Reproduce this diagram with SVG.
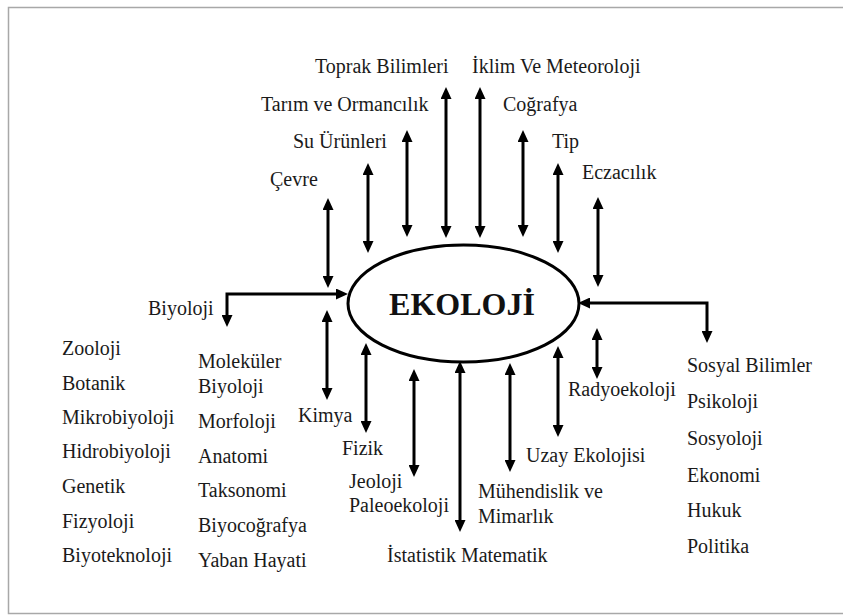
<svg xmlns="http://www.w3.org/2000/svg" width="843" height="615" viewBox="0 0 843 615">
<style>
text{font-family:"Liberation Serif","Times New Roman",serif;font-size:20px;fill:#1a1a1a}
.title{font-size:32px;font-weight:bold;fill:#111}
.c{fill:none;stroke:#000;stroke-width:3;marker-start:url(#ah);marker-end:url(#ah)}
</style>
<defs>
<marker id="ah" markerUnits="userSpaceOnUse" markerWidth="13" markerHeight="11" refX="6" refY="5.5" orient="auto-start-reverse">
<path d="M0,0 L12,5.5 L0,11 Z" fill="#000"/>
</marker>
</defs>
<rect width="843" height="615" fill="#fff"/>
<rect x="8.5" y="7.5" width="840" height="606" fill="none" stroke="#a8a8a8" stroke-width="1.5"/>
<g id="ekoloji">
<ellipse cx="463.5" cy="303.5" rx="115.5" ry="58.5" fill="#fff" stroke="#000" stroke-width="3"/>
<text class="title" x="462" y="315" text-anchor="middle">EKOLOJİ</text>
</g>
<g id="connectors">
<line class="c" x1="328" y1="204" x2="328" y2="282"/>
<line class="c" x1="368" y1="169" x2="368" y2="247"/>
<line class="c" x1="407" y1="136" x2="407" y2="231"/>
<line class="c" x1="446" y1="93" x2="446" y2="232"/>
<line class="c" x1="480" y1="93" x2="480" y2="232"/>
<line class="c" x1="523" y1="136" x2="523" y2="231"/>
<line class="c" x1="558" y1="169" x2="558" y2="247"/>
<line class="c" x1="598" y1="203" x2="598" y2="281"/>
<polyline class="c" points="227,321 227,294 342,294"/>
<polyline class="c" points="584,303 707,303 707,337"/>
<line class="c" x1="327" y1="316" x2="327" y2="394"/>
<line class="c" x1="366" y1="349" x2="366" y2="427"/>
<line class="c" x1="414" y1="375" x2="414" y2="471"/>
<line class="c" x1="460" y1="367" x2="460" y2="526"/>
<line class="c" x1="510" y1="369" x2="510" y2="466"/>
<line class="c" x1="558" y1="352" x2="558" y2="431"/>
<line class="c" x1="597" y1="334" x2="597" y2="373"/>
</g>
<g id="toprak"><text x="315" y="73">Toprak Bilimleri</text></g>
<g id="iklim"><text x="472" y="73">İklim Ve Meteoroloji</text></g>
<g id="tarim"><text x="261" y="111">Tarım ve Ormancılık</text></g>
<g id="cografya"><text x="503" y="111">Coğrafya</text></g>
<g id="su"><text x="293" y="148">Su Ürünleri</text></g>
<g id="tip"><text x="552" y="148">Tip</text></g>
<g id="cevre"><text x="270" y="186">Çevre</text></g>
<g id="eczacilik"><text x="582" y="179">Eczacılık</text></g>
<g id="biyoloji"><text x="148" y="315">Biyoloji</text></g>
<g id="biyoloji-list1">
<text x="62" y="355">Zooloji</text>
<text x="62" y="390">Botanik</text>
<text x="62" y="424">Mikrobiyoloji</text>
<text x="62" y="458">Hidrobiyoloji</text>
<text x="62" y="493">Genetik</text>
<text x="62" y="528">Fizyoloji</text>
<text x="62" y="562">Biyoteknoloji</text>
</g>
<g id="biyoloji-list2">
<text x="198" y="368">Moleküler</text>
<text x="198" y="393">Biyoloji</text>
<text x="198" y="428">Morfoloji</text>
<text x="198" y="463">Anatomi</text>
<text x="198" y="497">Taksonomi</text>
<text x="198" y="532">Biyocoğrafya</text>
<text x="198" y="567">Yaban Hayati</text>
</g>
<g id="kimya"><text x="298" y="422">Kimya</text></g>
<g id="fizik"><text x="342" y="455">Fizik</text></g>
<g id="jeoloji"><text x="349" y="488">Jeoloji</text><text x="349" y="512">Paleoekoloji</text></g>
<g id="istatistik"><text x="387" y="562">İstatistik Matematik</text></g>
<g id="muhendislik"><text x="478" y="498">Mühendislik ve</text><text x="478" y="523">Mimarlık</text></g>
<g id="uzay"><text x="526" y="462">Uzay Ekolojisi</text></g>
<g id="radyoekoloji"><text x="568" y="396">Radyoekoloji</text></g>
<g id="sosyal">
<text x="687" y="372">Sosyal Bilimler</text>
<text x="687" y="408">Psikoloji</text>
<text x="687" y="445">Sosyoloji</text>
<text x="687" y="482">Ekonomi</text>
<text x="687" y="517">Hukuk</text>
<text x="687" y="553">Politika</text>
</g>
</svg>
